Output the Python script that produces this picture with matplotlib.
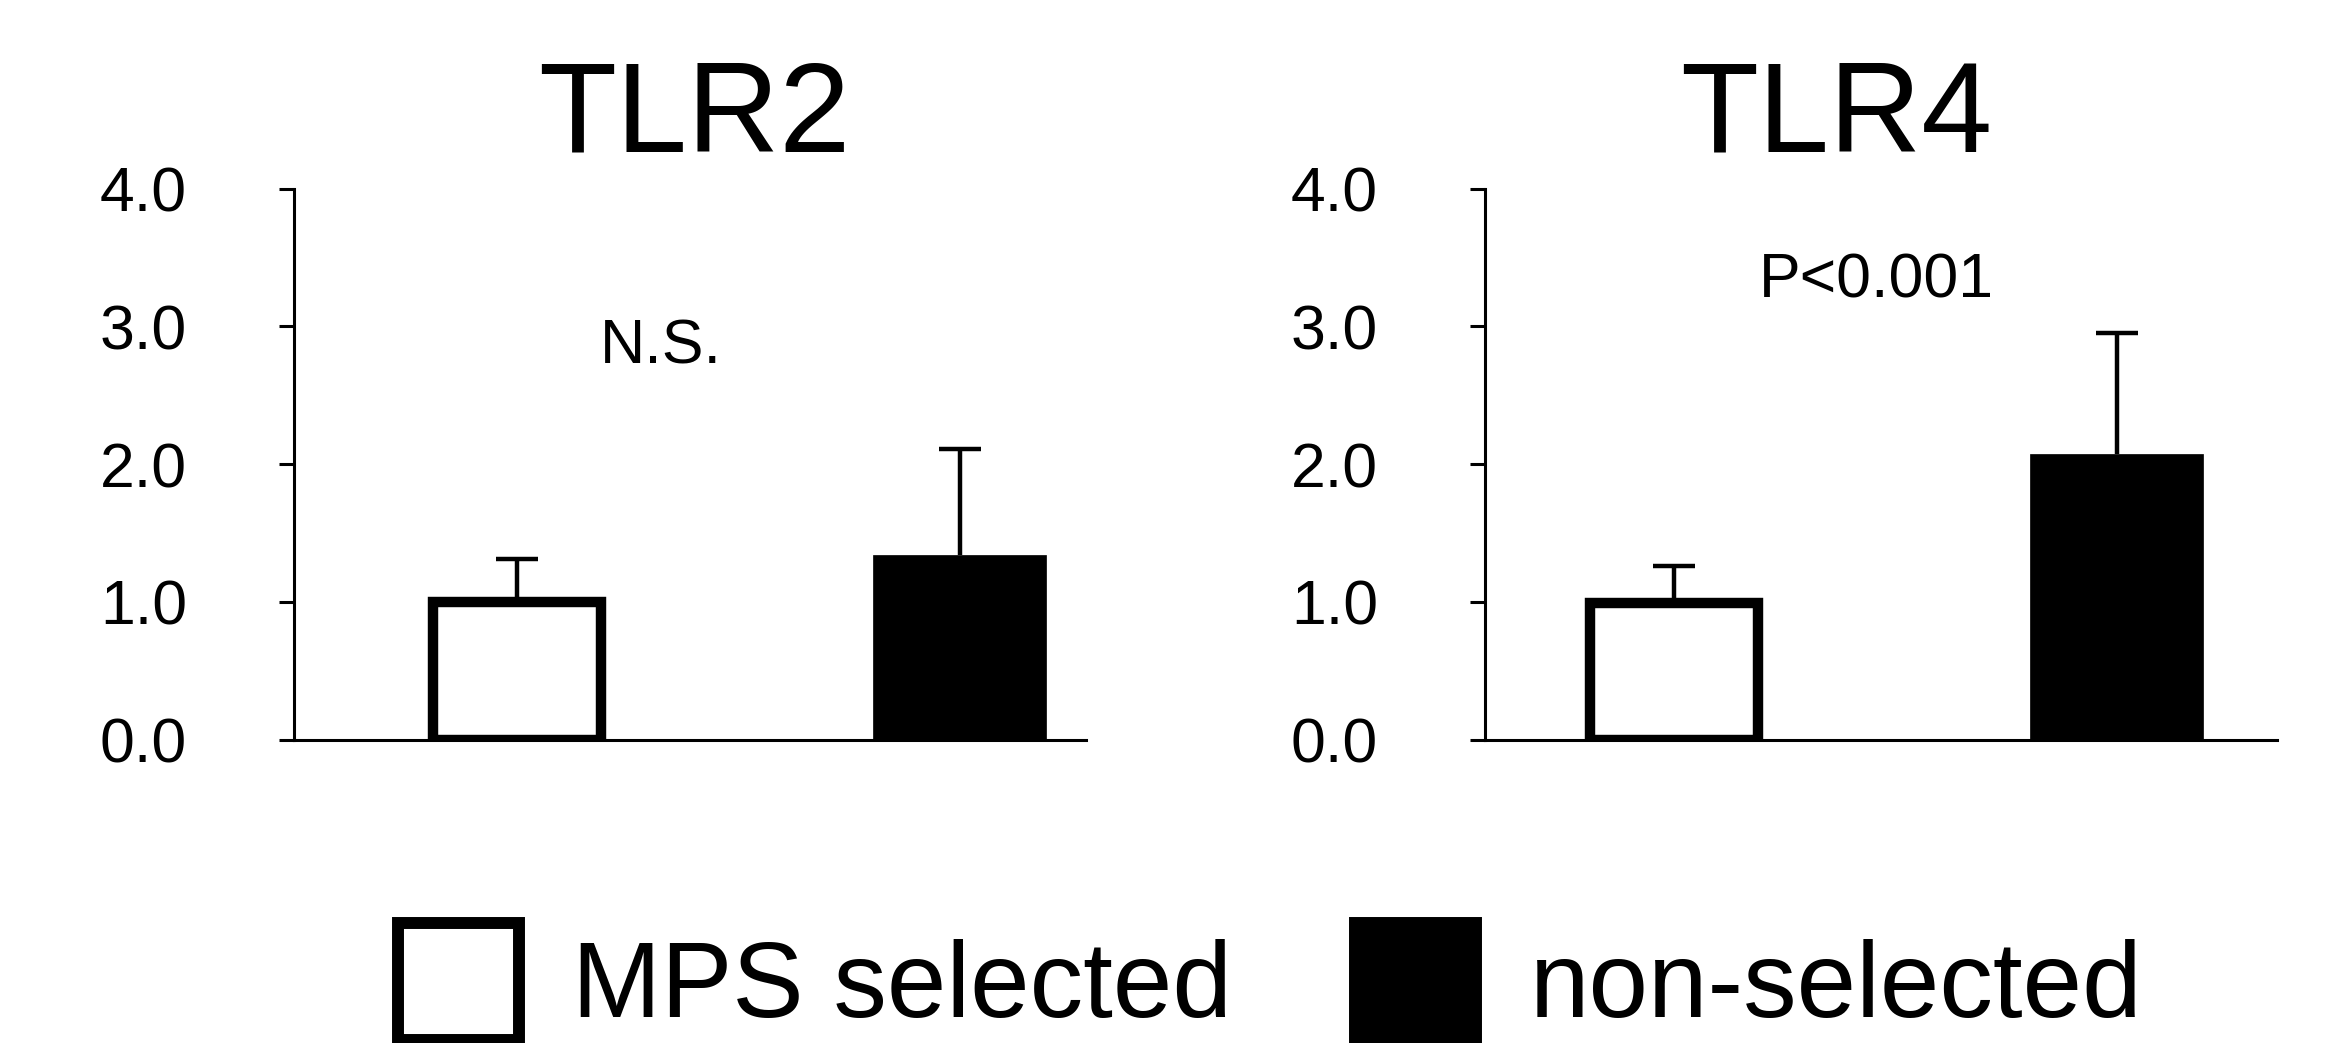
import matplotlib
matplotlib.use("Agg")
import matplotlib.pyplot as plt
from matplotlib.patches import Patch
from matplotlib.transforms import blended_transform_factory

plt.rcParams['font.family'] = ['Liberation Sans', 'DejaVu Sans']

# ---- data ----
groups = ["MPS selected", "non-selected"]
panels = ["TLR2", "TLR4"]
means = {"TLR2": [1.00, 1.34], "TLR4": [0.99, 2.07]}
errors = {"TLR2": [0.31, 0.77], "TLR4": [0.27, 0.88]}
annotations = {"TLR2": "N.S.", "TLR4": "P<0.001"}
yticks = [0.0, 1.0, 2.0, 3.0, 4.0]
ytick_labels = ["0.0", "1.0", "2.0", "3.0", "4.0"]

fig = plt.figure(figsize=(23.29, 10.43), dpi=100)

ax_rects = {"TLR2": [0.1262, 0.2908, 0.3401, 0.5284],
            "TLR4": [0.6376, 0.2908, 0.3401, 0.5284]}
xlims = {"TLR2": (-0.504, 1.285), "TLR4": (-0.427, 1.362)}
title_x = {"TLR2": 0.506, "TLR4": 0.444}
ann_pos = {"TLR2": (0.463, 2.73), "TLR4": (0.494, 3.21)}

for p in panels:
    ax = fig.add_axes(ax_rects[p])
    x = [0, 1]
    m = means[p]
    e = errors[p]
    # error bars (upper only)
    eb = ax.errorbar(x, m, yerr=[[0, 0], e], fmt='none', ecolor='black',
                     elinewidth=3.2, capsize=15, capthick=3.2, zorder=1)
    caps = eb.lines[1]
    if len(caps) == 2:
        caps[0].set_visible(False)
    ax.bar(x[0], m[0], width=0.38, color='white', edgecolor='black',
           linewidth=7.5, zorder=2)
    ax.bar(x[1], m[1], width=0.39, color='black', edgecolor='black',
           linewidth=0.5, zorder=2)
    ax.set_xlim(*xlims[p])
    ax.set_ylim(0, 4)
    ax.set_yticks(yticks)
    ax.set_yticklabels(ytick_labels)
    ax.set_xticks([])
    for s in ['top', 'right']:
        ax.spines[s].set_visible(False)
    for s in ['left', 'bottom']:
        ax.spines[s].set_linewidth(2.2)
    ax.tick_params(axis='y', direction='out', length=11, width=2.2,
                   labelsize=45, pad=66)
    ax.set_title(p, fontsize=92, x=title_x[p], pad=27)
    tr = blended_transform_factory(ax.transAxes, ax.transData)
    ax.text(ann_pos[p][0], ann_pos[p][1], annotations[p], transform=tr,
            ha='center', va='baseline', fontsize=45)

handles = [Patch(facecolor='white', edgecolor='black', linewidth=8.6),
           Patch(facecolor='black', edgecolor='black', linewidth=8.6)]
fig.legend(handles, groups, loc='upper left',
           bbox_to_anchor=(398 / 2329, 1 - 923 / 1043),
           ncol=2, frameon=False, fontsize=77, borderpad=0, borderaxespad=0,
           handlelength=1.13, handleheight=1.31, handletextpad=0.5,
           columnspacing=1.15)

fig.savefig("out.png", dpi=100)
